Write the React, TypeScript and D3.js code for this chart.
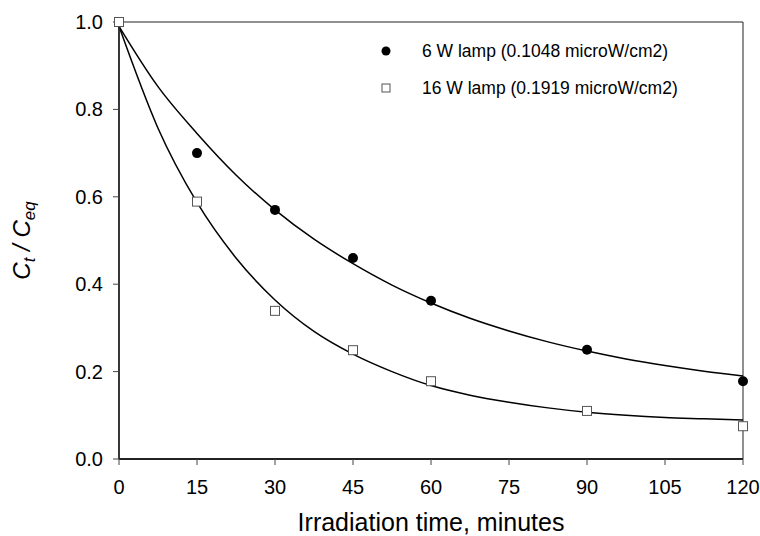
import React from 'react'
import * as d3 from 'd3'

// measured points
const times = [0, 15, 30, 45, 60, 90, 120]
const lamp6 = [1.0, 0.70, 0.57, 0.46, 0.362, 0.25, 0.178]
const lamp16 = [1.0, 0.589, 0.339, 0.249, 0.178, 0.11, 0.075]

// fitted curves
const curveT = [0, 7.5, 15, 22.5, 30, 37.5, 45, 52.5, 60, 67.5, 75, 82.5, 90, 97.5, 105, 112.5, 120]
const fit6 = [0.99, 0.852, 0.745, 0.65, 0.57, 0.503, 0.447, 0.398, 0.357, 0.322, 0.293, 0.268, 0.247, 0.229, 0.214, 0.201, 0.19]
const fit16 = [0.99, 0.757, 0.587, 0.46, 0.364, 0.292, 0.24, 0.2, 0.168, 0.146, 0.13, 0.117, 0.107, 0.1, 0.095, 0.092, 0.089]

const xTicks = [0, 15, 30, 45, 60, 75, 90, 105, 120]
const yTicks = [0, 0.2, 0.4, 0.6, 0.8, 1.0]

const legend6 = '6 W lamp (0.1048 microW/cm2)'
const legend16 = '16 W lamp (0.1919 microW/cm2)'

const W = 760
const H = 536
const left = 119
const right = 743
const top = 22
const bottom = 459
const font = 'Arial, "Liberation Sans", sans-serif'

export default function App() {
  const x = d3.scaleLinear().domain([0, 120]).range([left, right])
  const y = d3.scaleLinear().domain([0, 1]).range([bottom, top])

  const line = d3.line<[number, number]>()
    .curve(d3.curveMonotoneX)
    .x(d => x(d[0]))
    .y(d => y(d[1]))

  const pts6 = times.map((t, i) => [t, lamp6[i]] as [number, number])
  const pts16 = times.map((t, i) => [t, lamp16[i]] as [number, number])

  return (
    <div style={{ position: 'absolute', left: 0, top: 0 }}>
      <svg width={W} height={H} style={{ display: 'block', background: '#fff' }} fontFamily={font}>
        <rect x={0} y={0} width={W} height={H} fill="#fff" />

        {/* frame */}
        <line x1={left} x2={right} y1={top} y2={top} stroke="#222" strokeWidth={1} />
        <line x1={right} x2={right} y1={top} y2={bottom} stroke="#222" strokeWidth={1} />

        {/* fitted curves */}
        <path d={line(curveT.map((t, i) => [t, fit6[i]]))!} fill="none" stroke="#000" strokeWidth={1.5} />
        <path d={line(curveT.map((t, i) => [t, fit16[i]]))!} fill="none" stroke="#000" strokeWidth={1.5} />

        {/* axes */}
        <line x1={left} x2={left} y1={top} y2={bottom} stroke="#222" strokeWidth={1.8} />
        <line x1={left} x2={right} y1={bottom} y2={bottom} stroke="#222" strokeWidth={1.8} />

        {yTicks.map(v => (
          <g key={'y' + v}>
            <line x1={left - 6} x2={left} y1={y(v)} y2={y(v)} stroke="#444" />
            <text x={left - 16} y={y(v)} dy="0.35em" textAnchor="end" fontSize={20} fill="#000">
              {v.toFixed(1)}
            </text>
          </g>
        ))}
        {xTicks.map(v => (
          <g key={'x' + v}>
            <line x1={x(v)} x2={x(v)} y1={bottom} y2={bottom + 6} stroke="#444" />
            <text x={x(v)} y={494} textAnchor="middle" fontSize={20} fill="#000">{v}</text>
          </g>
        ))}

        {/* markers */}
        {pts6.map((d, i) => (
          <circle key={'c' + i} cx={x(d[0])} cy={y(d[1])} r={5} fill="#000" />
        ))}
        {pts16.map((d, i) => (
          <rect key={'s' + i} x={x(d[0]) - 4.5} y={y(d[1]) - 4.5} width={9} height={9}
            fill="#fff" stroke="#555" strokeWidth={1} />
        ))}

        {/* legend */}
        <circle cx={386} cy={51} r={4.5} fill="#000" />
        <text x={422} y={51} dy="0.35em" fontSize={17.5} fill="#000">{legend6}</text>
        <rect x={382} y={84} width={8} height={8} fill="#fff" stroke="#555" />
        <text x={422} y={88} dy="0.35em" fontSize={17.5} fill="#000">{legend16}</text>

        {/* titles */}
        <text x={(left + right) / 2} y={531} textAnchor="middle" fontSize={25} fill="#000">
          Irradiation time, minutes
        </text>
        <text transform={`translate(30,${(top + bottom) / 2}) rotate(-90)`} textAnchor="middle"
          fontSize={24} fontStyle="italic" fill="#000">
          C<tspan fontSize={17} dy={5}>t</tspan>
          <tspan dy={-5}> / C</tspan>
          <tspan fontSize={17} dy={5}>eq</tspan>
        </text>
      </svg>
    </div>
  )
}
